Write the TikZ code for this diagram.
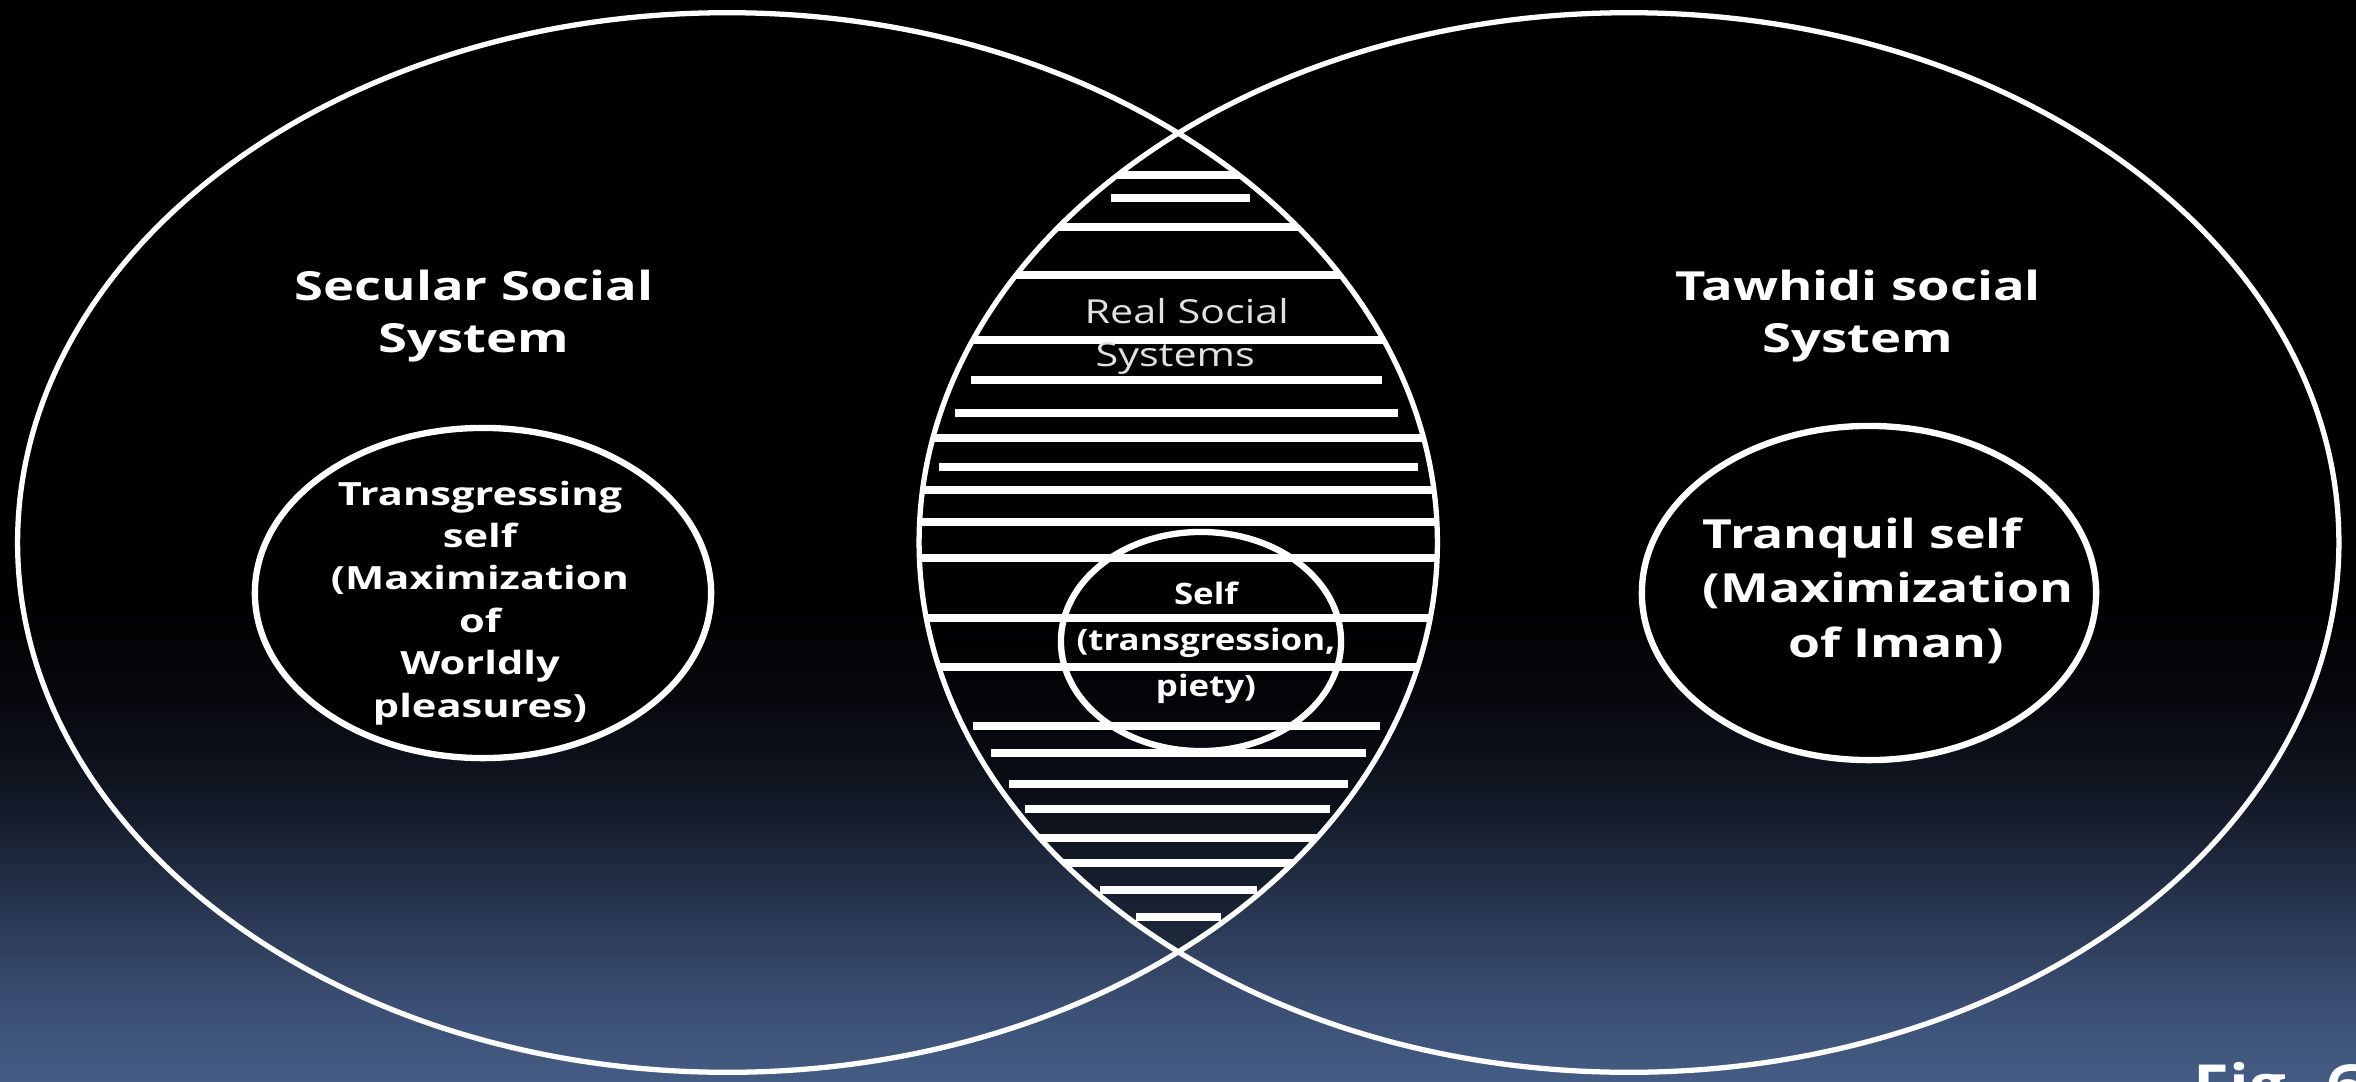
\documentclass[tikz,border=0pt]{standalone}
\usepackage{fontspec}
\setmainfont{Open Sans}
\definecolor{bgbot}{RGB}{68,92,132}
\definecolor{bga}{RGB}{58,78,114}
\definecolor{bgb}{RGB}{38,51,76}
\definecolor{bgc}{RGB}{18,24,38}
\definecolor{bgd}{RGB}{6,8,13}
\definecolor{realgray}{RGB}{225,225,225}
\pgfdeclareverticalshading{bgshade}{100bp}{color(0bp)=(bgbot); color(25bp)=(bgbot); color(28.75bp)=(bga); color(33.4bp)=(bgb); color(38bp)=(bgc); color(42.6bp)=(bgd); color(47.3bp)=(black); color(100bp)=(black)}
\newcommand{\lblc}[2][1.31]{\scalebox{#1}[1]{\begin{tabular}[t]{@{}c@{}}#2\end{tabular}}}
\newcommand{\lbll}[2][1.31]{\scalebox{#1}[1]{\begin{tabular}[t]{@{}l@{}}#2\end{tabular}}}
\begin{document}
\begin{tikzpicture}[x=0.01cm,y=-0.01cm,
  vennline/.style={draw=white,line width=1.5pt},
  selfring/.style={draw=white,line width=1.8pt},
  stripe/.style={draw=white,line width=2pt},
  lbl/.style={inner sep=0pt,text=white},
  titlefont/.style={font=\bfseries\fontsize{11.4}{14.8}\selectfont},
  lfont/.style={font=\bfseries\fontsize{9.1}{12.06}\selectfont},
  rfont/.style={font=\bfseries\fontsize{11.4}{15.6}\selectfont},
  sfont/.style={font=\bfseries\fontsize{8.4}{13.2}\selectfont},
  realfont/.style={font=\fontsize{9.4}{12.5}\selectfont}]
\clip (0,0) rectangle (2356,1081);
\shade[shading=bgshade] (0,0) rectangle (2356,1081);
\coordinate (cL) at (727.5,542.5);
\coordinate (cR) at (1629,542.5);
\coordinate (cTrans) at (483,593);
\coordinate (cTranq) at (1869,593);
\coordinate (cSelf) at (1201,641.5);
% lens
\begin{scope}
  \clip (cL) ellipse [x radius=7.095cm, y radius=5.295cm];
  \fill[black,opacity=0.35] (cR) ellipse [x radius=7.095cm, y radius=5.295cm];
  \clip (cR) ellipse [x radius=7.095cm, y radius=5.295cm];
  \foreach \yy in {175,227,275,340,438,490,522,558,618,667,838,863}
    \draw[stripe] (880,\yy) -- (1480,\yy);
  \draw[stripe] (1111,198) -- (1250,198);
  \draw[stripe] (971,380) -- (1382,380);
  \draw[stripe] (955,413) -- (1398,413);
  \draw[stripe] (939,467) -- (1418,467);
  \draw[stripe] (973,726) -- (1380,726);
  \draw[stripe] (991,753) -- (1366,753);
  \draw[stripe] (1009,784) -- (1348,784);
  \draw[stripe] (1025,809) -- (1330,809);
  \draw[stripe] (1100,890) -- (1257,890);
  \draw[stripe] (1136,917) -- (1221,917);
\end{scope}
% big ellipses
\draw[vennline] (cL) ellipse [x radius=7.095cm, y radius=5.295cm];
\draw[vennline] (cR) ellipse [x radius=7.095cm, y radius=5.295cm];
% inner circles
\draw[selfring,fill=black] (cTrans) ellipse [x radius=2.28cm, y radius=1.65cm];
\draw[selfring,fill=black] (cTranq) ellipse [x radius=2.27cm, y radius=1.67cm];
\draw[selfring] (cSelf) ellipse [x radius=1.40cm, y radius=1.095cm];
% labels
\node[lbl,titlefont,anchor=base] (secular) at (474,300) {\lblc{Secular Social\\System}};
\node[lbl,titlefont,anchor=base] (tawhidi) at (1858,300) {\lblc{Tawhidi social\\System}};
\node[lbl,realfont,text=realgray,anchor=base west] (real) at (1084,323) {\lbll[1.25]{Real Social\\\hspace*{2.5pt}Systems}};
\node[lbl,lfont,anchor=base] (trans) at (480,505) {\lblc[1.3]{Transgressing\\self\\(Maximization\\of\\Worldly\\pleasures)}};
\node[lbl,rfont,anchor=base west] (tranq) at (1702,548) {\lbll[1.29]{Tranquil self\\(Maximization\\\hspace*{18.8pt}of Iman)}};
\node[lbl,sfont,anchor=base] (self) at (1206,604) {\lblc[1.18]{Self\\(transgression,\\piety)}};
\node[lbl,anchor=base west,font=\bfseries\fontsize{16.5}{20}\selectfont] (fig) at (2193,1106) {\scalebox{1.12}[1]{Fig. 6}};
\end{tikzpicture}
\end{document}
